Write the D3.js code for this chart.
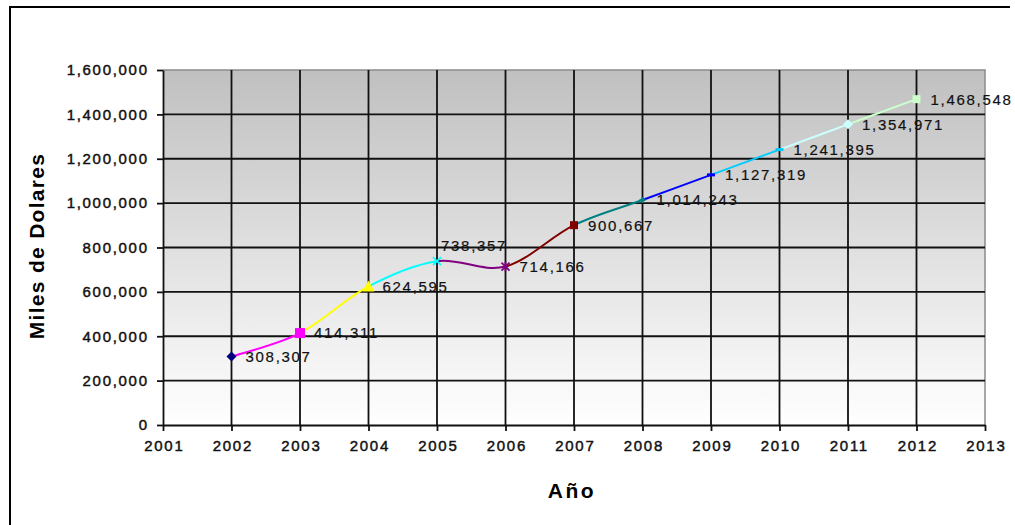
<!DOCTYPE html>
<html>
<head>
<meta charset="utf-8">
<script src="https://cdn.jsdelivr.net/npm/d3@7"></script>
<style>
  html, body { margin: 0; padding: 0; background: #fff; }
  svg { display: block; }
  text { font-family: "Liberation Sans", Arial, sans-serif; }
</style>
</head>
<body>
<svg id="chart" width="1015" height="525"></svg>
<script>
// ---- data ----
const years = [2002, 2003, 2004, 2005, 2006, 2007, 2008, 2009, 2010, 2011, 2012];
const values = [308307, 414311, 624595, 738357, 714166, 900667, 1014243, 1127319, 1241395, 1354971, 1468548];
const xTickLabels = [2001, 2002, 2003, 2004, 2005, 2006, 2007, 2008, 2009, 2010, 2011, 2012, 2013];
const yTickValues = [0, 200000, 400000, 600000, 800000, 1000000, 1200000, 1400000, 1600000];
const yAxisTitle = "Miles de Dolares";
const xAxisTitle = "Año";

// ---- styles (per point, Excel palette) ----
const pointColors = ["#000080", "#ff00ff", "#ffff00", "#00ffff", "#800080", "#800000",
                     "#008080", "#0000ff", "#00ccff", "#ccffff", "#ccffcc"];
const markerShapes = ["diamond", "square", "triangle", "x", "star", "square",
                      "plus", "dash", "dash", "diamond", "square"];

(function () {
const svg = d3.select("#chart");
const W = 1015, H = 525;
const pL = 163, pR = 985, pT = 70, pB = 425;

const x = d3.scaleLinear().domain([2001, 2013]).range([pL, pR]);
const y = d3.scaleLinear().domain([0, 1600000]).range([pB, pT]);

// outer border (top & left visible)
svg.append("path")
  .attr("d", `M10,${H + 5} L10,7 L1010,7`)
  .attr("fill", "none").attr("stroke", "#000").attr("stroke-width", 2);

// gradient background
const defs = svg.append("defs");
const grad = defs.append("linearGradient").attr("id", "bg")
  .attr("x1", 0).attr("y1", 0).attr("x2", 0).attr("y2", 1);
grad.append("stop").attr("offset", "0%").attr("stop-color", "#c0c0c0");
grad.append("stop").attr("offset", "100%").attr("stop-color", "#ffffff");

svg.append("rect")
  .attr("x", pL).attr("y", pT)
  .attr("width", pR - pL).attr("height", pB - pT)
  .attr("fill", "url(#bg)");

// plot border (gray top/right)
svg.append("path")
  .attr("d", `M${pL},${pT} L${pR},${pT} L${pR},${pB}`)
  .attr("fill", "none").attr("stroke", "#8a8a8a").attr("stroke-width", 1.5);

// gridlines
const grid = svg.append("g");
grid.selectAll("line.h").data(yTickValues.filter(v => v > 0 && v < 1600000)).enter()
  .append("line")
  .attr("x1", pL).attr("x2", pR)
  .attr("y1", d => y(d)).attr("y2", d => y(d))
  .attr("stroke", "#111").attr("stroke-width", 1.8);
grid.selectAll("line.v").data(xTickLabels.filter(v => v > 2001 && v < 2013)).enter()
  .append("line")
  .attr("y1", pT).attr("y2", pB)
  .attr("x1", d => x(d)).attr("x2", d => x(d))
  .attr("stroke", "#111").attr("stroke-width", 1.8);

// axes
const tickFont = "15px";
const yAxis = svg.append("g").attr("transform", `translate(${pL},0)`)
  .call(d3.axisLeft(y).tickValues(yTickValues).tickSize(6).tickSizeOuter(0)
    .tickPadding(10).tickFormat(d3.format(",")));
const xAxis = svg.append("g").attr("transform", `translate(0,${pB})`)
  .call(d3.axisBottom(x).tickValues(xTickLabels).tickSize(6).tickSizeOuter(0)
    .tickPadding(9).tickFormat(d3.format("d")));
[yAxis, xAxis].forEach(g => {
  g.select(".domain").attr("stroke", "#111").attr("stroke-width", 1.8);
  g.selectAll(".tick line").attr("stroke", "#111").attr("stroke-width", 1.8);
  g.selectAll(".tick text").attr("fill", "#111")
    .attr("stroke", "#111").attr("stroke-width", 0.45)
    .style("font-family", '"Liberation Sans", Arial, sans-serif')
    .style("font-size", tickFont).style("letter-spacing", "1.7px");
});
yAxis.selectAll(".tick text").attr("dx", "1.7px");
xAxis.selectAll(".tick text").attr("dx", "0.85px");

// axis titles
svg.append("text")
  .attr("transform", `translate(44,246) rotate(-90)`)
  .attr("text-anchor", "middle")
  .style("font-size", "21px").style("font-weight", "bold").style("letter-spacing", "1.3px")
  .text(yAxisTitle);
svg.append("text")
  .attr("x", 572).attr("y", 498)
  .attr("text-anchor", "middle")
  .style("font-size", "21px").style("font-weight", "bold").style("letter-spacing", "2.5px")
  .text(xAxisTitle);

// smooth line segments coloured by end point (cardinal/Catmull-Rom, 1/6 control points)
const pts = years.map((yr, i) => [x(yr), y(values[i])]);
const n = pts.length;
const segs = svg.append("g");
for (let i = 0; i < n - 1; i++) {
  const p0 = pts[Math.max(i - 1, 0)], p1 = pts[i], p2 = pts[i + 1], p3 = pts[Math.min(i + 2, n - 1)];
  const c1 = [p1[0] + (p2[0] - p0[0]) / 6, p1[1] + (p2[1] - p0[1]) / 6];
  const c2 = [p2[0] - (p3[0] - p1[0]) / 6, p2[1] - (p3[1] - p1[1]) / 6];
  const path = d3.path();
  path.moveTo(p1[0], p1[1]);
  path.bezierCurveTo(c1[0], c1[1], c2[0], c2[1], p2[0], p2[1]);
  segs.append("path").attr("d", path.toString())
    .attr("fill", "none").attr("stroke", pointColors[i + 1]).attr("stroke-width", 2);
}

// markers
const mk = svg.append("g");
years.forEach((yr, i) => {
  const cx = x(yr), cy = y(values[i]), c = pointColors[i], s = markerShapes[i];
  const g = mk.append("g").attr("transform", `translate(${cx},${cy})`);
  if (s === "diamond") {
    g.append("path").attr("d", "M0,-5L5,0L0,5L-5,0Z").attr("fill", c);
  } else if (s === "square") {
    const r = i === 1 ? 5 : 4;
    g.append("rect").attr("x", -r).attr("y", -r).attr("width", 2 * r).attr("height", 2 * r).attr("fill", c);
  } else if (s === "triangle") {
    g.append("path").attr("d", "M0,-6L6,5L-6,5Z").attr("fill", c);
  } else if (s === "x") {
    g.append("path").attr("d", "M-4,-4L4,4M-4,4L4,-4").attr("stroke", c).attr("stroke-width", 1.6);
  } else if (s === "star") {
    g.append("path").attr("d", "M-4,-4L4,4M-4,4L4,-4M0,-5L0,5").attr("stroke", c).attr("stroke-width", 1.8);
  } else if (s === "plus") {
    g.append("path").attr("d", "M-3,0L3,0M0,-3L0,3").attr("stroke", c).attr("stroke-width", 2);
  } else if (s === "dash") {
    g.append("path").attr("d", "M-4,0L4,0").attr("stroke", c).attr("stroke-width", 3);
  }
});

// data labels
const fmt = d3.format(",");
svg.append("g").selectAll("text").data(years).enter().append("text")
  .attr("x", (d, i) => d === 2005 ? x(d) + 4 : x(d) + 14)
  .attr("y", (d, i) => d === 2005 ? y(values[i]) - 16 : y(values[i]))
  .attr("dy", "0.36em")
  .style("font-size", "15px").style("letter-spacing", "1.7px").attr("fill", "#111")
  .attr("stroke", "#111").attr("stroke-width", 0.2)
  .text((d, i) => fmt(values[i]));
})();
</script>
</body>
</html>
